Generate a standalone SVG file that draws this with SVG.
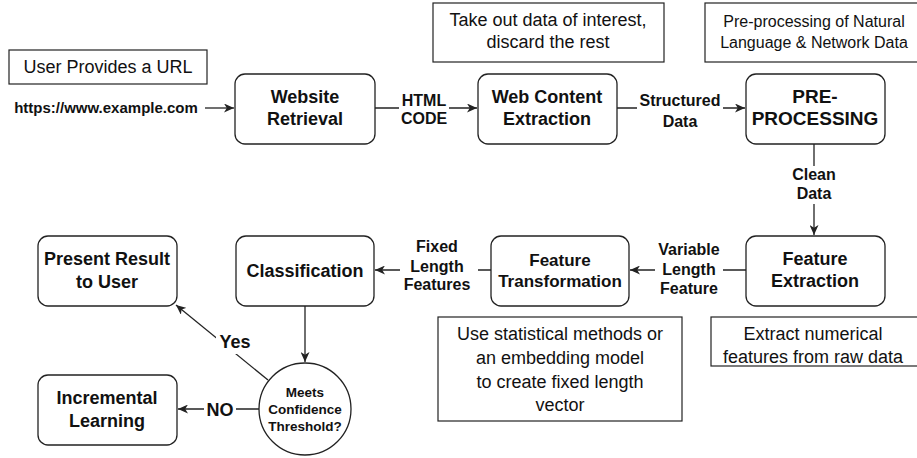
<svg xmlns="http://www.w3.org/2000/svg" width="917" height="458" viewBox="0 0 917 458">
<defs>
<style>
.node{fill:#fff;stroke:#222;stroke-width:1.3}
.note{fill:#fff;stroke:#222;stroke-width:1.2}
.lbl{font-family:"Liberation Sans",Arial,sans-serif;font-weight:bold;font-size:18px;fill:#111;text-anchor:middle}
.txt{font-family:"Liberation Sans",Arial,sans-serif;font-size:18px;fill:#111;text-anchor:middle}
.elbl{font-family:"Liberation Sans",Arial,sans-serif;font-weight:bold;font-size:16px;fill:#111;text-anchor:middle}
.edge{fill:none;stroke:#222;stroke-width:1.3}
.bg{fill:#fff;stroke:none}
</style>
<marker id="arr" markerUnits="userSpaceOnUse" markerWidth="11" markerHeight="9" refX="10" refY="4.5" orient="auto">
<path d="M0,0 L10,4.5 L0,9 L2.8,4.5 Z" fill="#222"/>
</marker>
</defs>

<g id="connectors">
<line class="edge" x1="205" y1="108" x2="234" y2="108" marker-end="url(#arr)"/>
<line class="edge" x1="375" y1="108" x2="477" y2="108" marker-end="url(#arr)"/>
<line class="edge" x1="617" y1="108" x2="745" y2="108" marker-end="url(#arr)"/>
<line class="edge" x1="814" y1="144" x2="814" y2="235" marker-end="url(#arr)"/>
<line class="edge" x1="746" y1="270" x2="630" y2="270" marker-end="url(#arr)"/>
<line class="edge" x1="491" y1="270" x2="375" y2="270" marker-end="url(#arr)"/>
<line class="edge" x1="305" y1="306" x2="305" y2="362" marker-end="url(#arr)"/>
<line class="edge" x1="268" y1="380" x2="176" y2="305" marker-end="url(#arr)"/>
<line class="edge" x1="259" y1="409" x2="178" y2="409" marker-end="url(#arr)"/>

<rect class="bg" x="399" y="92" width="50" height="36"/>
<text class="elbl" x="424" y="106">HTML</text>
<text class="elbl" x="424" y="124">CODE</text>

<rect class="bg" x="637" y="94" width="86" height="38"/>
<text class="elbl" x="680" y="106">Structured</text>
<text class="elbl" x="680" y="127">Data</text>

<rect class="bg" x="790" y="166" width="48" height="38"/>
<text class="elbl" x="814" y="180">Clean</text>
<text class="elbl" x="814" y="199">Data</text>

<rect class="bg" x="655" y="240" width="68" height="60"/>
<text class="elbl" x="689" y="255">Variable</text>
<text class="elbl" x="689" y="275">Length</text>
<text class="elbl" x="689" y="294">Feature</text>

<rect class="bg" x="400" y="238" width="78" height="58"/>
<text class="elbl" x="437" y="252">Fixed</text>
<text class="elbl" x="437" y="272">Length</text>
<text class="elbl" x="437" y="290">Features</text>

<rect class="bg" x="216" y="332" width="38" height="22"/>
<text class="lbl" x="235" y="348">Yes</text>

<rect class="bg" x="204" y="400" width="32" height="20"/>
<text class="lbl" x="220" y="416">NO</text>
</g>

<g id="note-url">
<rect class="note" x="9" y="50" width="198" height="34"/>
<text class="txt" x="108" y="73">User Provides a URL</text>
</g>
<g id="url-input">
<text class="lbl" x="106" y="113" style="font-size:15px">https://www.example.com</text>
</g>

<g id="note-extract">
<rect class="note" x="433" y="3" width="231" height="59"/>
<text class="txt" x="548" y="26">Take out data of interest,</text>
<text class="txt" x="548" y="48">discard the rest</text>
</g>

<g id="note-preproc">
<rect class="note" x="705" y="3" width="214" height="59"/>
<text class="txt" x="814" y="27" style="font-size:16px">Pre-processing of Natural</text>
<text class="txt" x="814" y="48" style="font-size:16px">Language &amp; Network Data</text>
</g>

<g id="website-retrieval">
<rect class="node" x="235" y="74" width="140" height="70" rx="10"/>
<text class="lbl" x="305" y="103">Website</text>
<text class="lbl" x="305" y="125">Retrieval</text>
</g>

<g id="web-content-extraction">
<rect class="node" x="478" y="74" width="139" height="70" rx="10"/>
<text class="lbl" x="547" y="103">Web Content</text>
<text class="lbl" x="547" y="125">Extraction</text>
</g>

<g id="pre-processing">
<rect class="node" x="746" y="74" width="139" height="70" rx="10"/>
<text class="lbl" x="815" y="103" style="font-size:19px">PRE-</text>
<text class="lbl" x="815" y="125" style="font-size:19px">PROCESSING</text>
</g>

<g id="feature-extraction">
<rect class="node" x="746" y="236" width="139" height="70" rx="10"/>
<text class="lbl" x="815" y="265">Feature</text>
<text class="lbl" x="815" y="287">Extraction</text>
</g>

<g id="note-feature-extraction">
<rect class="note" x="711" y="317" width="208" height="49"/>
<text class="txt" x="813" y="340">Extract numerical</text>
<text class="txt" x="813" y="363">features from raw data</text>
</g>

<g id="feature-transformation">
<rect class="node" x="491" y="236" width="138" height="70" rx="10"/>
<text class="lbl" x="560" y="266" style="font-size:17px">Feature</text>
<text class="lbl" x="560" y="287" style="font-size:17px">Transformation</text>
</g>

<g id="note-feature-transformation">
<rect class="note" x="438" y="317" width="244" height="104"/>
<text class="txt" x="560" y="340">Use statistical methods or</text>
<text class="txt" x="560" y="364">an embedding model</text>
<text class="txt" x="560" y="388">to create fixed length</text>
<text class="txt" x="560" y="411">vector</text>
</g>

<g id="classification">
<rect class="node" x="236" y="236" width="138" height="70" rx="10"/>
<text class="lbl" x="305" y="277">Classification</text>
</g>

<g id="present-result">
<rect class="node" x="38" y="236" width="139" height="70" rx="10"/>
<text class="lbl" x="107" y="265">Present Result</text>
<text class="lbl" x="107" y="288">to User</text>
</g>

<g id="incremental-learning">
<rect class="node" x="38" y="375" width="139" height="70" rx="10"/>
<text class="lbl" x="107" y="404">Incremental</text>
<text class="lbl" x="107" y="427">Learning</text>
</g>

<g id="confidence-check">
<circle class="node" cx="305" cy="409" r="46"/>
<text class="lbl" x="305" y="397" style="font-size:13.5px">Meets</text>
<text class="lbl" x="305" y="414" style="font-size:13.5px">Confidence</text>
<text class="lbl" x="305" y="431" style="font-size:13.5px">Threshold?</text>
</g>
</svg>
